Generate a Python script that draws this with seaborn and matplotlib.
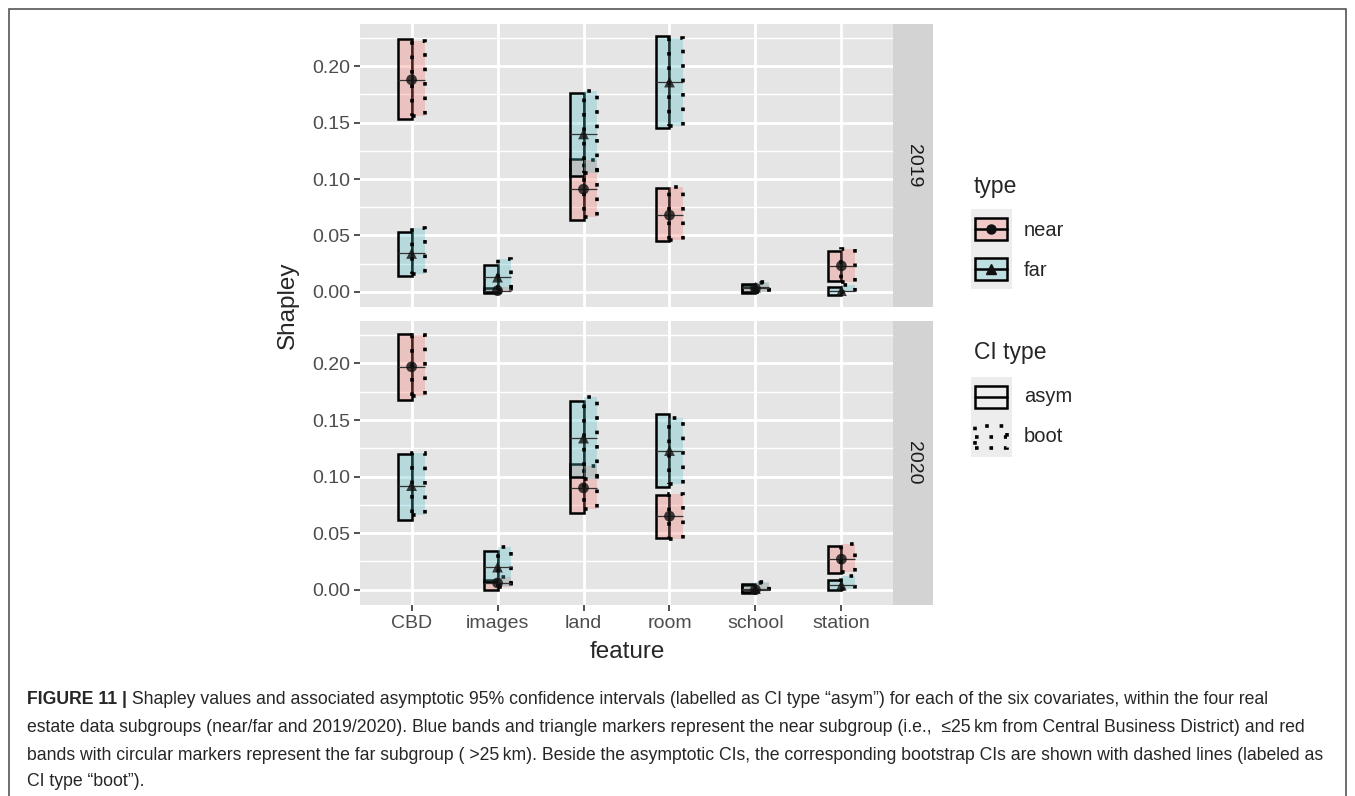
import numpy as np
import pandas as pd
import matplotlib
matplotlib.use("Agg")
import matplotlib.pyplot as plt
import matplotlib.patches as mpatches
import matplotlib.lines as mlines
from matplotlib.colors import to_rgba
import seaborn as sns

# ── data ───────────────────────────────────────────────────
features = ["CBD", "images", "land", "room", "school", "station"]
years = ["2019", "2020"]

# 2019
near_2019_est = [0.188, 0.001, 0.091, 0.068, 0.003, 0.023]
near_2019_asym_lo = [0.153, -0.001, 0.064, 0.045, -0.001, 0.010]
near_2019_asym_hi = [0.224, 0.003, 0.118, 0.092, 0.006, 0.036]
near_2019_boot_lo = [0.156, 0.000, 0.066, 0.046, 0.000, 0.009]
near_2019_boot_hi = [0.222, 0.004, 0.117, 0.093, 0.008, 0.038]
far_2019_est = [0.034, 0.013, 0.140, 0.186, 0.004, 0.001]
far_2019_asym_lo = [0.014, 0.000, 0.103, 0.145, 0.000, -0.003]
far_2019_asym_hi = [0.053, 0.024, 0.176, 0.227, 0.007, 0.004]
far_2019_boot_lo = [0.016, 0.002, 0.105, 0.147, 0.000, 0.000]
far_2019_boot_hi = [0.057, 0.029, 0.178, 0.225, 0.009, 0.006]

# 2020
near_2020_est = [0.197, 0.006, 0.090, 0.065, 0.000, 0.027]
near_2020_asym_lo = [0.168, 0.000, 0.068, 0.046, -0.003, 0.015]
near_2020_asym_hi = [0.226, 0.009, 0.111, 0.084, 0.004, 0.039]
near_2020_boot_lo = [0.171, 0.002, 0.071, 0.045, -0.001, 0.016]
near_2020_boot_hi = [0.225, 0.011, 0.109, 0.085, 0.006, 0.040]
far_2020_est = [0.092, 0.020, 0.134, 0.123, 0.001, 0.004]
far_2020_asym_lo = [0.062, 0.007, 0.100, 0.091, -0.002, 0.000]
far_2020_asym_hi = [0.120, 0.034, 0.167, 0.155, 0.005, 0.009]
far_2020_boot_lo = [0.066, 0.003, 0.098, 0.093, -0.001, 0.001]
far_2020_boot_hi = [0.121, 0.038, 0.170, 0.152, 0.007, 0.012]

rows = []
src = {
    ("2019", "near"): (near_2019_est, near_2019_asym_lo, near_2019_asym_hi, near_2019_boot_lo, near_2019_boot_hi),
    ("2019", "far"): (far_2019_est, far_2019_asym_lo, far_2019_asym_hi, far_2019_boot_lo, far_2019_boot_hi),
    ("2020", "near"): (near_2020_est, near_2020_asym_lo, near_2020_asym_hi, near_2020_boot_lo, near_2020_boot_hi),
    ("2020", "far"): (far_2020_est, far_2020_asym_lo, far_2020_asym_hi, far_2020_boot_lo, far_2020_boot_hi),
}
for (yr, tp), (est, alo, ahi, blo, bhi) in src.items():
    for i, f in enumerate(features):
        rows.append(dict(year=yr, type=tp, feature=f, est=est[i],
                         asym_lo=alo[i], asym_hi=ahi[i], boot_lo=blo[i], boot_hi=bhi[i]))
df = pd.DataFrame(rows)
df["feature"] = pd.Categorical(df["feature"], categories=features)
df["xpos"] = df["feature"].cat.codes

# ── style ──────────────────────────────────────────────────
sns.set_theme(style="darkgrid", rc={
    "axes.facecolor": "#E5E5E5",
    "grid.color": "white",
})
plt.rcParams["font.family"] = ["Liberation Sans", "DejaVu Sans"]

colors = {"near": "#F8766D", "far": "#52C0C7"}
markers = {"near": "o", "far": "^"}
W, H = 1355, 796
fx = lambda px: px / W
fy = lambda py: 1 - py / H

fig = plt.figure(figsize=(W / 100, H / 100), dpi=100)

# frame around figure + caption
fig.add_artist(mpatches.Rectangle((fx(9), fy(805)), fx(1346) - fx(9), (805 - 9) / H,
                                  transform=fig.transFigure, fill=False,
                                  edgecolor="#555555", lw=1.2))

bw = 0.16
dotted = (0, (1.0, 3.0))
boot_lw = 2.6
panels = [(24, 307), (321, 605)]

for k, yr in enumerate(years):
    top, bot = panels[k]
    ax = fig.add_axes([fx(360), fy(bot), fx(893) - fx(360), (bot - top) / H])
    d = df[df["year"] == yr]
    for tp in ["near", "far"]:
        s = d[d["type"] == tp]
        ax.bar(s["xpos"] - bw / 2, s["asym_hi"] - s["asym_lo"], bottom=s["asym_lo"], width=bw,
               color=to_rgba(colors[tp], 0.3), edgecolor="black", linewidth=1.8, zorder=3)
    for tp in ["near", "far"]:
        s = d[d["type"] == tp]
        ax.bar(s["xpos"] + bw / 2, s["boot_hi"] - s["boot_lo"], bottom=s["boot_lo"], width=bw,
               color=to_rgba(colors[tp], 0.3), edgecolor="black", linewidth=boot_lw,
               linestyle=dotted, zorder=3)
        ax.hlines(s["est"], s["xpos"] - bw, s["xpos"] + bw, color="#333333", lw=0.9, zorder=4)
    sns.scatterplot(data=d, x="xpos", y="est", style="type", markers=markers,
                    color="#111111", alpha=0.8, s=60, edgecolor="none",
                    legend=False, ax=ax, zorder=5)

    ax.set_xlim(-0.6, 5.6)
    ax.set_ylim(-0.0135, 0.2375)
    ax.set_yticks([0, 0.05, 0.10, 0.15, 0.20])
    ax.set_yticklabels(["0.00", "0.05", "0.10", "0.15", "0.20"])
    ax.set_yticks([0.025, 0.075, 0.125, 0.175, 0.225], minor=True)
    ax.set_xticks(range(len(features)))
    ax.grid(which="major", color="white", lw=2.0)
    ax.grid(which="minor", axis="y", color="white", lw=1.0)
    ax.set_xlabel("")
    ax.set_ylabel("")
    for sp in ax.spines.values():
        sp.set_visible(False)
    ax.tick_params(axis="both", which="major", length=4, width=1.2, color="#333333",
                   labelsize=14, labelcolor="#4D4D4D", left=True, bottom=True, pad=3)
    ax.tick_params(axis="y", which="minor", length=0)
    if k == 0:
        ax.set_xticklabels([])
        ax.tick_params(axis="x", length=0)
    else:
        ax.set_xticklabels(features)

    # facet strip
    fig.add_artist(mpatches.Rectangle((fx(893), fy(bot)), 40 / W, (bot - top) / H,
                                      transform=fig.transFigure, color="#D3D3D3", lw=0))
    fig.text(fx(913), fy((top + bot) / 2), yr, rotation=-90, ha="center", va="center",
             fontsize=14, color="#1A1A1A")

fig.text(fx(288), fy(305), "Shapley", rotation=90, ha="center", va="center", fontsize=17.5)
fig.text(fx(627), fy(652), "feature", ha="center", va="center", fontsize=17.5)

# ── legends (drawn by hand, ggplot-like) ───────────────────
def key_bg(y0, y1):
    fig.add_artist(mpatches.Rectangle((fx(971), fy(y1)), 41 / W, (y1 - y0) / H,
                                      transform=fig.transFigure, color="#EDEDED", lw=0))

def glyph(yc, fc, ls="-", marker=None):
    lw = boot_lw if ls != "-" else 1.8
    fig.add_artist(mpatches.Rectangle((fx(975), fy(yc + 11)), 32 / W, 22 / H,
                                      transform=fig.transFigure, facecolor=fc,
                                      edgecolor="black", lw=lw, linestyle=ls))
    fig.add_artist(mlines.Line2D([fx(975), fx(1007)], [fy(yc), fy(yc)],
                                 transform=fig.transFigure, color="black", lw=lw,
                                 linestyle=ls))
    if marker:
        fig.add_artist(mlines.Line2D([fx(991)], [fy(yc)], transform=fig.transFigure,
                                     marker=marker, color="#111111", markersize=6.5, lw=0))

fig.text(fx(974), fy(186), "type", ha="left", va="center", fontsize=16.5)
key_bg(209, 289)
glyph(229, to_rgba(colors["near"], 0.3), marker="o")
glyph(269, to_rgba(colors["far"], 0.3), marker="^")
fig.text(fx(1024), fy(230), "near", ha="left", va="center", fontsize=14.5)
fig.text(fx(1024), fy(270), "far", ha="left", va="center", fontsize=14.5)

fig.text(fx(974), fy(353), "CI type", ha="left", va="center", fontsize=16.5)
key_bg(377, 457)
glyph(397, "none")
glyph(437, "none", ls=dotted)
fig.text(fx(1024), fy(397), "asym", ha="left", va="center", fontsize=14.5)
fig.text(fx(1024), fy(437), "boot", ha="left", va="center", fontsize=14.5)

# ── caption ───────────────────────────────────────────────
cap_bold = "FIGURE 11 |"
cap_lines = [
    " Shapley values and associated asymptotic 95% confidence intervals (labelled as CI type \u201casym\u201d) for each of the six covariates, within the four real",
    "estate data subgroups (near/far and 2019/2020). Blue bands and triangle markers represent the near subgroup (i.e.,  \u226425\u2009km from Central Business District) and red",
    "bands with circular markers represent the far subgroup ( >25\u2009km). Beside the asymptotic CIs, the corresponding bootstrap CIs are shown with dashed lines (labeled as",
    "CI type \u201cboot\u201d).",
]
cap_y = [699, 727, 755, 782]
renderer = fig.canvas.get_renderer()
probe = fig.text(0, 0, cap_lines[2], fontsize=10)
w = probe.get_window_extent(renderer).width
probe.remove()
cap_fs = 10 * (1327 - 27) / w

tb = fig.text(fx(27), fy(cap_y[0]), cap_bold, fontsize=cap_fs, fontweight="bold", va="center")
bw_px = tb.get_window_extent(renderer).width
fig.text(fx(27 + bw_px), fy(cap_y[0]), cap_lines[0], fontsize=cap_fs, va="center")
for line, yy in zip(cap_lines[1:], cap_y[1:]):
    fig.text(fx(27), fy(yy), line, fontsize=cap_fs, va="center")

fig.savefig("out.png", dpi=100)
